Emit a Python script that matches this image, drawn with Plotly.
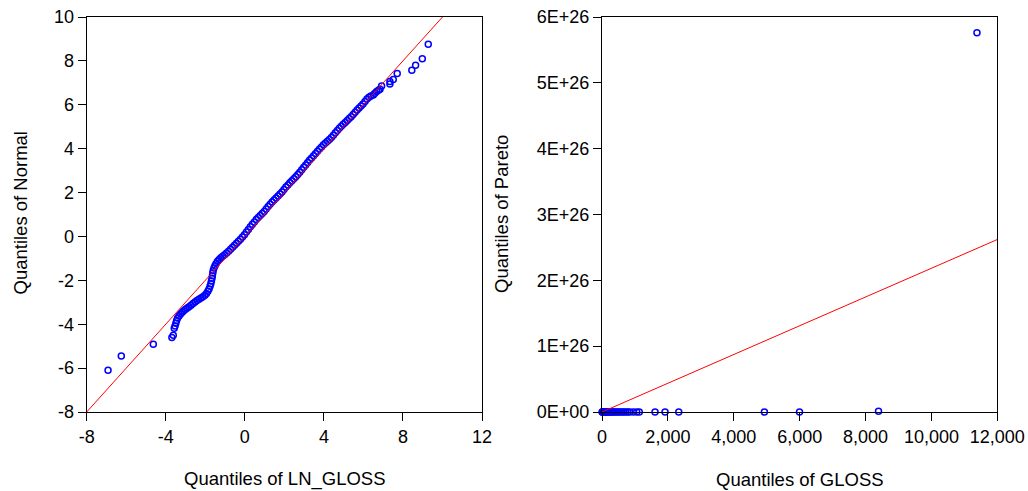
import plotly.graph_objects as go

# ---- Left panel: LN_GLOSS quantiles against normal quantiles ----
ln_gloss_q = [
    -6.92, -6.25, -4.63, -3.69, -3.62, -3.57, -3.53, -3.49, -3.45, -3.40,
    -3.33, -3.25, -3.17, -3.09, -3.00, -2.91, -2.82, -2.72, -2.62, -2.52,
    -2.42, -2.32, -2.22, -2.12, -2.02, -1.94, -1.87, -1.81, -1.76, -1.72,
    -1.69, -1.66, -1.64, -1.62, -1.60, -1.56, -1.51, -1.45, -1.38, -1.30,
    -1.21, -1.12, -1.02, -0.92, -0.82, -0.72, -0.62, -0.52, -0.42, -0.32,
    -0.22, -0.12, -0.02, 0.08, 0.18, 0.28, 0.38, 0.48, 0.58, 0.68,
    0.78, 0.88, 0.98, 1.08, 1.18, 1.28, 1.38, 1.48, 1.58, 1.68,
    1.78, 1.88, 1.98, 2.08, 2.18, 2.28, 2.38, 2.48, 2.58, 2.68,
    2.78, 2.88, 2.98, 3.08, 3.18, 3.28, 3.38, 3.48, 3.58, 3.68,
    3.78, 3.88, 3.98, 4.08, 4.18, 4.28, 4.38, 4.48, 4.58, 4.68,
    4.78, 4.88, 4.98, 5.08, 5.18, 5.28, 5.38, 5.48, 5.58, 5.68,
    5.78, 5.88, 5.98, 6.08, 6.18, 6.28, 6.38, 6.50, 6.58, 6.67,
    6.76, 6.84, 6.92, 7.34, 7.34, 7.51, 7.71, 8.45, 8.64, 8.98, 9.28,
]
normal_q = [
    -6.10, -5.45, -4.91, -4.61, -4.50, -4.18, -4.08, -3.95, -3.83, -3.72,
    -3.62, -3.53, -3.46, -3.39, -3.32, -3.26, -3.20, -3.13, -3.06, -2.99,
    -2.92, -2.86, -2.81, -2.75, -2.68, -2.60, -2.50, -2.39, -2.27, -2.15,
    -2.03, -1.91, -1.79, -1.67, -1.55, -1.44, -1.33, -1.23, -1.13, -1.05,
    -0.97, -0.90, -0.83, -0.75, -0.67, -0.58, -0.49, -0.40, -0.31, -0.22,
    -0.13, -0.03, 0.08, 0.20, 0.32, 0.44, 0.55, 0.66, 0.77, 0.86,
    0.95, 1.04, 1.14, 1.25, 1.36, 1.47, 1.57, 1.66, 1.75, 1.84,
    1.93, 2.03, 2.14, 2.25, 2.35, 2.45, 2.54, 2.63, 2.72, 2.82,
    2.93, 3.04, 3.15, 3.26, 3.37, 3.48, 3.58, 3.68, 3.78, 3.88,
    3.98, 4.08, 4.18, 4.26, 4.34, 4.42, 4.51, 4.61, 4.72, 4.83,
    4.93, 5.02, 5.11, 5.19, 5.28, 5.37, 5.46, 5.56, 5.66, 5.76,
    5.85, 5.94, 6.04, 6.15, 6.26, 6.34, 6.40, 6.45, 6.53, 6.60,
    6.66, 6.71, 6.86, 6.95, 7.06, 7.15, 7.42, 7.57, 7.80, 8.10, 8.76,
]
normal_ref_x = [-8, 10]
normal_ref_y = [-8, 10]

# ---- Right panel: GLOSS quantiles against Pareto quantiles ----
gloss_q = [
    5, 12, 20, 30, 42, 55, 70, 88, 108, 130, 155, 182, 212, 245, 280,
    318, 360, 405, 452, 500, 550, 605, 660, 720, 780, 840, 950, 1053,
    1132, 1610, 1914, 2330, 4930, 5995, 8394, 11383,
]
pareto_q = [
    1.1e2, 2.9e2, 6.0e2, 1.2e3, 2.3e3, 4.4e3, 8.5e3, 1.7e4, 3.4e4, 7.0e4,
    1.5e5, 3.2e5, 7.0e5, 1.6e6, 3.7e6, 8.8e6, 2.2e7, 5.6e7, 1.5e8, 4.1e8,
    1.2e9, 3.6e9, 1.2e10, 4.1e10, 1.5e11, 6.0e11, 2.6e12, 1.3e13, 7.3e13,
    4.9e14, 4.3e15, 5.6e16, 1.3e18, 4.4e19, 1.2e24, 5.76e26,
]
pareto_ref_x = [0, 12000]
pareto_ref_y = [0, 2.62e26]

# ---- Tick definitions (plain hyphen minus signs) ----
left_xticks = [-8, -4, 0, 4, 8, 12]
left_xlabels = ["-8", "-4", "0", "4", "8", "12"]
left_yticks = [-8, -6, -4, -2, 0, 2, 4, 6, 8, 10]
left_ylabels = ["-8", "-6", "-4", "-2", "0", "2", "4", "6", "8", "10"]
right_xticks = [0, 2000, 4000, 6000, 8000, 10000, 12000]
right_xlabels = ["0", "2,000", "4,000", "6,000", "8,000", "10,000", "12,000"]
right_yticks = [0, 1e26, 2e26, 3e26, 4e26, 5e26, 6e26]
right_ylabels = ["0E+00", "1E+26", "2E+26", "3E+26", "4E+26", "5E+26", "6E+26"]

W, H = 1028, 491
FONT = dict(family="Arial, 'Liberation Sans', sans-serif", size=18, color="#000000")
TITLE_FONT = dict(family="Arial, 'Liberation Sans', sans-serif", size=18.5, color="#000000")
BLUE = "#0000FF"
RED = "#FF0000"


def px_x(p):
    return p / W


def px_y(p):
    return 1 - p / H


marker_style = dict(symbol="circle-open", size=6, color=BLUE,
                    line=dict(width=1.5, color=BLUE))

fig = go.Figure()

fig.add_trace(go.Scatter(
    x=ln_gloss_q, y=normal_q, mode="markers", xaxis="x", yaxis="y",
    marker=marker_style, cliponaxis=False, showlegend=False, hoverinfo="skip",
))
fig.add_trace(go.Scatter(
    x=normal_ref_x, y=normal_ref_y, mode="lines", xaxis="x", yaxis="y",
    line=dict(color=RED, width=1), showlegend=False, hoverinfo="skip",
))
fig.add_trace(go.Scatter(
    x=gloss_q, y=pareto_q, mode="markers", xaxis="x2", yaxis="y2",
    marker=marker_style, cliponaxis=False, showlegend=False, hoverinfo="skip",
))
fig.add_trace(go.Scatter(
    x=pareto_ref_x, y=pareto_ref_y, mode="lines", xaxis="x2", yaxis="y2",
    line=dict(color=RED, width=1), showlegend=False, hoverinfo="skip",
))

axis_common = dict(
    showline=True, mirror=True, linecolor="#000000", linewidth=1,
    ticks="outside", ticklen=8, tickwidth=1, tickcolor="#000000",
    showgrid=False, zeroline=False, tickfont=FONT, automargin=False,
)

y_dom = [px_y(412), px_y(17)]

fig.update_layout(
    width=W, height=H, autosize=False,
    margin=dict(l=0, r=0, t=0, b=0, pad=0),
    paper_bgcolor="#FFFFFF", plot_bgcolor="#FFFFFF",
    font=FONT,
    xaxis=dict(domain=[px_x(86.7), px_x(482)], range=[-8, 12],
               tickvals=left_xticks, ticktext=left_xlabels, anchor="y", **axis_common),
    yaxis=dict(domain=y_dom, range=[-8, 10],
               tickvals=left_yticks, ticktext=left_ylabels, anchor="x", **axis_common),
    xaxis2=dict(domain=[px_x(602), px_x(997.3)], range=[0, 12000],
                tickvals=right_xticks, ticktext=right_xlabels, anchor="y2", **axis_common),
    yaxis2=dict(domain=y_dom, range=[0, 6e26],
                tickvals=right_yticks, ticktext=right_ylabels, anchor="x2", **axis_common),
    annotations=[
        dict(text="Quantiles of LN_GLOSS", x=px_x(285), y=px_y(479), xref="paper", yref="paper",
             xanchor="center", yanchor="middle", showarrow=False, font=TITLE_FONT),
        dict(text="Quantiles of GLOSS", x=px_x(800), y=px_y(479), xref="paper", yref="paper",
             xanchor="center", yanchor="middle", showarrow=False, font=TITLE_FONT),
        dict(text="Quantiles of Normal", x=px_x(19.5), y=px_y(213), xref="paper", yref="paper",
             xanchor="center", yanchor="middle", textangle=-90, showarrow=False, font=TITLE_FONT),
        dict(text="Quantiles of Pareto", x=px_x(501), y=px_y(214), xref="paper", yref="paper",
             xanchor="center", yanchor="middle", textangle=-90, showarrow=False, font=TITLE_FONT),
    ],
)

fig.write_html("out.html")
